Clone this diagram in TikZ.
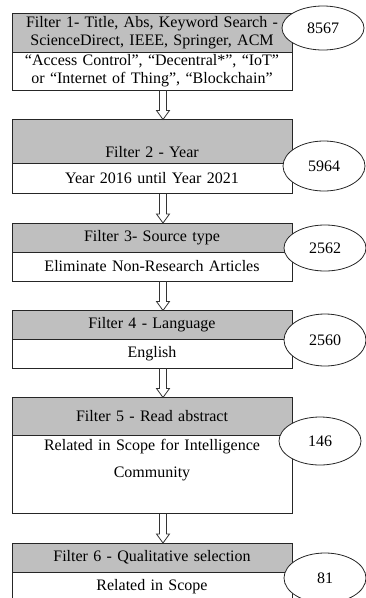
\documentclass[tikz,border=0pt]{standalone}
\usepackage{fontspec}
\setmainfont{Liberation Serif}
\usepackage{tikz}
\usetikzlibrary{positioning, calc, shapes}
\usepackage{xcolor}

\begin{document}
\begin{tikzpicture}[
			% GLOBAL CFG
			x=1pt, y=-1pt,
			font=\fontsize{16}{18}\selectfont,
			line width=.8pt,
			% Styles
			head/.style={% For the grey title part of a filter
				rectangle,
				draw=black!85,
				fill=black!25, % Grey fill color
				text width=276pt,
				align=center,
				inner xsep=2pt,
				inner ysep=2pt,
				outer sep=0pt,
			},
			body/.style={% For the white part below the title
				rectangle,
				draw=black!85,
				fill=white,
				text width=276pt,
				align=center,
				inner xsep=2pt,
				inner ysep=2pt,
				outer sep=0pt,
			},
			count/.style={% For the number of papers left
				ellipse,
				draw=black!85,
				fill=white,
				minimum width=82pt,
				inner sep=0pt,
			},
			hollowarrow/.style={% Hollow block arrows between the filters
				draw=black!80,
				to path={
					let \p1=(\tikztostart), \p2=(\tikztotarget) in
					(\x1-3.5pt,\y1) -- (\x1-3.5pt,\y2+9pt) -- (\x1-6.5pt,\y2+9pt)
					-- (\x1,\y2) -- (\x1+6.5pt,\y2+9pt) -- (\x1+3.5pt,\y2+9pt)
					-- (\x1+3.5pt,\y1)
				},
			},
			]
			\useasboundingbox (0,0) rectangle (365,598);
			
			% Draw the filters, title part and white part
			\node [head, anchor=north, minimum height=39pt] (head1) at (152,13)
				{Filter 1- Title, Abs, Keyword Search -\\ScienceDirect, IEEE, Springer, ACM};
			\node [body, below=0pt of head1, minimum height=38pt] (body1)
				{“Access Control”, “Decentral*”, “IoT”\\or “Internet of Thing”, “Blockchain”};
			
			\node [head, below=29.5pt of body1, text height=36pt, text depth=4pt] (head2) {Filter 2 - Year};
			\node [body, below=0pt of head2, minimum height=30pt] (body2) {Year 2016 until Year 2021};
			
			\node [head, below=29.5pt of body2, minimum height=29pt] (head3) {Filter 3- Source type};
			\node [body, below=0pt of head3, minimum height=29pt] (body3) {Eliminate Non-Research Articles};
			
			\node [head, below=29.5pt of body3, minimum height=28.5pt] (head4) {Filter 4 - Language};
			\node [body, below=0pt of head4, minimum height=29pt] (body4) {English};
			
			\node [head, below=29.5pt of body4, minimum height=38pt] (head5) {Filter 5 - Read abstract};
			\node [body, below=0pt of head5, minimum height=78pt] (body5)
				{Related in Scope for Intelligence\\[9pt]Community\\[9pt]\strut};
			
			\node [head, below=29.5pt of body5, minimum height=29pt] (head6) {Filter 6 - Qualitative selection};
			\node [body, below=0pt of head6, minimum height=29pt] (body6) {Related in Scope};
			
			% Draw the counts
			\node [count, minimum height=44pt] (cnt1) at (323,28) {8567};
			\node [count, minimum height=50pt] (cnt2) at (324,166) {5964};
			\node [count, minimum height=46pt] (cnt3) at (325,248) {2562};
			\node [count, minimum height=52pt] (cnt4) at (325,340) {2560};
			\node [count, minimum height=48pt] (cnt5) at (320,441) {146};
			\node [count, minimum height=50pt] (cnt6) at (325,578) {81};
			
			% Drawing arrows
			\foreach \i/\j in {1/2, 2/3, 3/4, 4/5, 5/6}
				\draw [hollowarrow] ([xshift=11pt]body\i.south) to ([xshift=11pt]head\j.north);
			
\end{tikzpicture}
\end{document}
